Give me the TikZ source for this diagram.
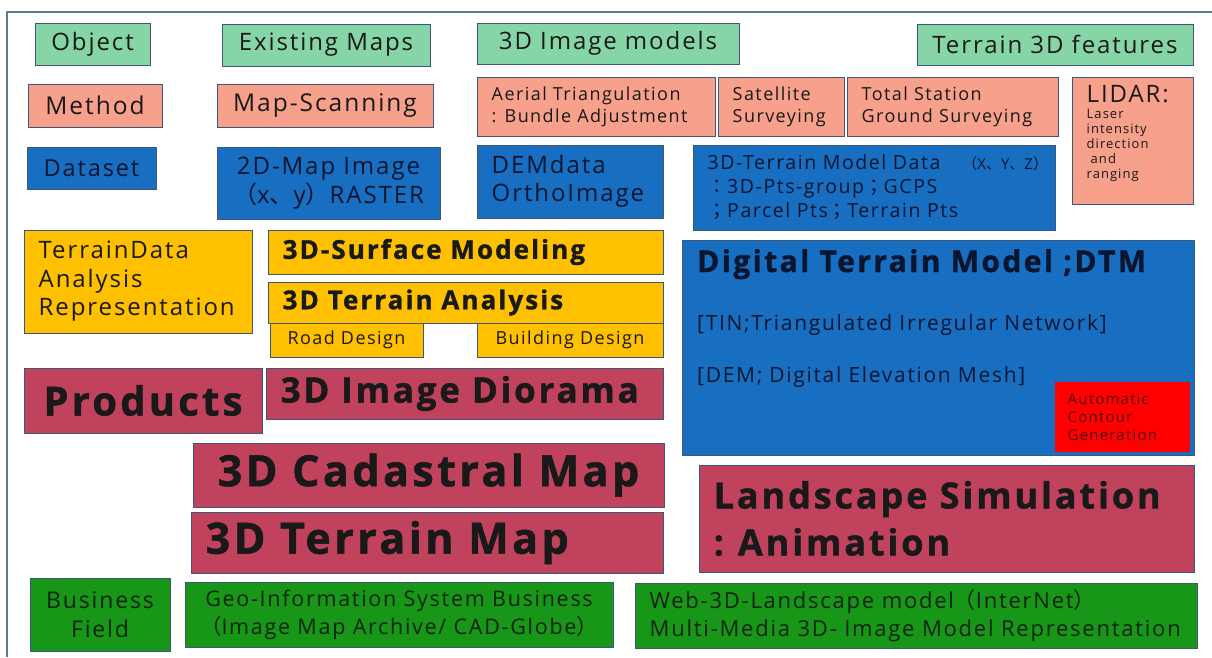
\documentclass[tikz,border=0pt]{standalone}
\usepackage{fontspec}
\setmainfont{Open Sans}[LetterSpace=8,BoldFeatures={FakeBold=1.2}]
\newfontfamily\cjk{Noto Sans CJK JP}
\newcommand\cj[1]{{\cjk #1}}
\newcommand\fs[2]{\fontsize{#1}{#2}\selectfont}
\definecolor{mint}{RGB}{134,213,167}
\definecolor{salmon}{RGB}{247,160,140}
\definecolor{dblue}{RGB}{24,110,192}
\definecolor{gold}{RGB}{255,192,0}
\definecolor{maroon}{RGB}{192,66,92}
\definecolor{bgreen}{RGB}{24,150,24}
\definecolor{outl}{RGB}{62,88,118}
\definecolor{navy}{RGB}{10,22,48}
\definecolor{dgreen}{RGB}{14,36,14}
\definecolor{dred}{RGB}{80,10,10}
\definecolor{framec}{RGB}{96,118,156}
\tikzset{
  box/.style={draw=outl,line width=1pt,inner sep=0pt},
  mintbox/.style={box,fill=mint},
  salbox/.style={box,fill=salmon},
  bluebox/.style={box,fill=dblue},
  goldbox/.style={box,fill=gold},
  marbox/.style={box,fill=maroon},
  grbox/.style={box,fill=bgreen},
  redbox/.style={box,fill=red,draw=none},
  txt/.style={inner sep=0pt,text=black!90},
  btxt/.style={txt,text=navy},
  gtxt/.style={txt,text=dgreen},
  rtxt/.style={txt,text=dred},
}
% centred text box: name, box style, text style, x1,y1,x2,y2, text
\newcommand\bxc[8]{%
  \pgfmathsetmacro\bw{#6-#4}\pgfmathsetmacro\bh{#7-#5}%
  \node[#2,minimum width=\bw pt,minimum height=\bh pt] (#1) at ({(#4+#6)/2},{(#5+#7)/2}) {};
  \node[#3,align=center] (#1t) at (#1.center) {#8};}
% left aligned text box
\newcommand\bxl[8]{%
  \pgfmathsetmacro\bw{#6-#4}\pgfmathsetmacro\bh{#7-#5}%
  \node[#2,minimum width=\bw pt,minimum height=\bh pt] (#1) at ({(#4+#6)/2},{(#5+#7)/2}) {};
  \node[#3,align=left,anchor=west] (#1t) at ([xshift=15pt]#1.west) {#8};}
\begin{document}
\begin{tikzpicture}[x=1pt,y=-1pt]
\useasboundingbox (0,0) rectangle (1212,657);
\fill[white] (0,0) rectangle (1212,657);
\coordinate (fa) at (7,657);
\coordinate (fb) at (7,12);
\coordinate (fc) at (1212,12);
\draw[framec,line width=1.2pt] (fa) -- (fb) -- (fc);
% row 1 objects
\bxc{obj}{mintbox}{txt,font={\fs{24}{28}}}{35}{23}{150}{65}{Object}
\bxc{exm}{mintbox}{txt,font={\fs{24}{28}}}{222}{24}{430}{66}{Existing Maps}
\bxc{im3}{mintbox}{txt,font={\fs{24}{28}}}{477}{23}{739}{64}{3D Image models}
\bxc{t3f}{mintbox}{txt,font={\fs{24}{28}}}{917}{24}{1193}{65}{Terrain 3D features}
% row 2 methods
\bxc{meth}{salbox}{txt,font={\fs{24.5}{28}}}{28}{84}{162}{127}{Method}
\bxc{mscan}{salbox}{txt,font={\fs{24.5}{28}}}{217}{84}{433}{127}{Map-Scanning}
\bxl{aer}{salbox}{txt,font={\fs{18}{22}}}{477}{77}{715}{136}{Aerial Triangulation\\: Bundle Adjustment}
\bxl{sat}{salbox}{txt,font={\fs{18}{22}}}{718}{77}{844}{136}{Satellite\\Surveying}
\bxl{tot}{salbox}{txt,font={\fs{18}{22}}}{847}{77}{1058}{136}{Total Station\\Ground Surveying}
\pgfmathsetmacro\bw{1193-1072}
\node[salbox,minimum width=\bw pt,minimum height=127pt] (lidar) at (1132.5,140.5) {};
\node[txt,align=left,anchor=north west,font={\fs{13}{15}}] (lidart) at ([xshift=15pt,yshift=-9pt]lidar.north west) {{\fs{24}{26}LIDAR:}\\[1pt]Laser\\intensity\\direction\\\hspace{4pt}and\\ranging};
% row 3 datasets
\bxc{dset}{bluebox}{btxt,font={\fs{23.5}{28}}}{27}{147}{156}{189}{Dataset}
\bxc{map2d}{bluebox}{btxt,font={\fs{24}{29}}}{217}{147}{440}{219}{2D-Map Image\\\cj{（}x\cj{、}y\cj{）}RASTER}
\bxl{dem}{bluebox}{btxt,font={\fs{24}{28}}}{477}{145}{663}{218}{DEMdata\\OrthoImage}
\bxl{t3d}{bluebox}{btxt,font={\fs{19.5}{24}}}{693}{145}{1055}{230}{3D-Terrain Model Data\hspace{22pt}{\fs{15}{24}\cj{（}X\cj{、}Y\cj{、}Z\cj{）}}\\\cj{：}3D-Pts-group\cj{；}GCPS\\\cj{；}Parcel Pts\cj{；}Terrain Pts}
% row 4 analysis
\bxl{tdar}{goldbox}{txt,font={\fs{24}{28.5}}}{24}{230}{252}{333}{TerrainData\\Analysis\\Representation}
\bxl{surf}{goldbox}{txt,font={\fs{26}{30}\bfseries}}{268}{230}{663}{274}{3D-Surface Modeling}
\bxl{anal}{goldbox}{txt,font={\fs{26}{30}\bfseries}}{268}{282}{663}{323}{3D Terrain Analysis}
\bxc{road}{goldbox}{txt,font={\fs{18}{22}}}{270}{323}{423}{357}{Road Design}
\bxc{bldg}{goldbox}{txt,font={\fs{18}{22}}}{477}{323}{663}{357}{Building Design}
% DTM
\pgfmathsetmacro\bw{1194-682}
\node[bluebox,minimum width=\bw pt,minimum height=215pt] (dtm) at (938,347.5) {};
\node[btxt,anchor=base west,font={\fs{30}{34}\bfseries}] (dtmt) at (697,272) {Digital Terrain Model ;DTM};
\node[btxt,anchor=base west,font={\fs{21}{24}}] (tin) at (697,330) {[TIN;Triangulated Irregular Network]};
\node[btxt,anchor=base west,font={\fs{21}{24}}] (demm) at (697,382) {[DEM; Digital Elevation Mesh]};
\pgfmathsetmacro\bw{1190-1055}
\node[redbox,minimum width=\bw pt,minimum height=70pt] (acg) at (1122.5,417) {};
\node[rtxt,align=left,anchor=west,font={\fs{15}{18}}] (acgt) at ([xshift=13pt]acg.west) {Automatic\\Contour\\Generation};
% products
\bxc{prod}{marbox}{txt,font={\fs{40}{44}\bfseries}}{24}{368}{262}{433}{Products}
\bxl{dior}{marbox}{txt,font={\fs{35}{40}\bfseries}}{266}{368}{663}{419}{3D Image Diorama}
\bxc{cad}{marbox}{txt,font={\fs{43}{48}\bfseries}}{193}{443}{664}{507}{3D Cadastral Map}
\bxl{ter}{marbox}{txt,font={\fs{43}{48}\bfseries}}{191}{512}{663}{573}{3D Terrain Map}
\bxl{land}{marbox}{txt,font={\fs{36}{47}\bfseries}}{699}{465}{1194}{572}{Landscape Simulation\\:\hspace{14pt}Animation}
% business
\bxc{bf}{grbox}{gtxt,font={\fs{23}{29}}}{30}{578}{170}{651}{Business\\Field}
\bxc{gis}{grbox}{gtxt,font={\fs{21.5}{28}}}{185}{582}{613}{647}{Geo-Information System Business\\\cj{（}Image Map Archive/ CAD-Globe\cj{）}}
\bxl{web}{grbox}{gtxt,font={\fs{22}{28}}}{635}{583}{1197}{648}{Web-3D-Landscape model\cj{（}InterNet\cj{）}\\Multi-Media 3D- Image Model Representation}
\end{tikzpicture}
\end{document}
